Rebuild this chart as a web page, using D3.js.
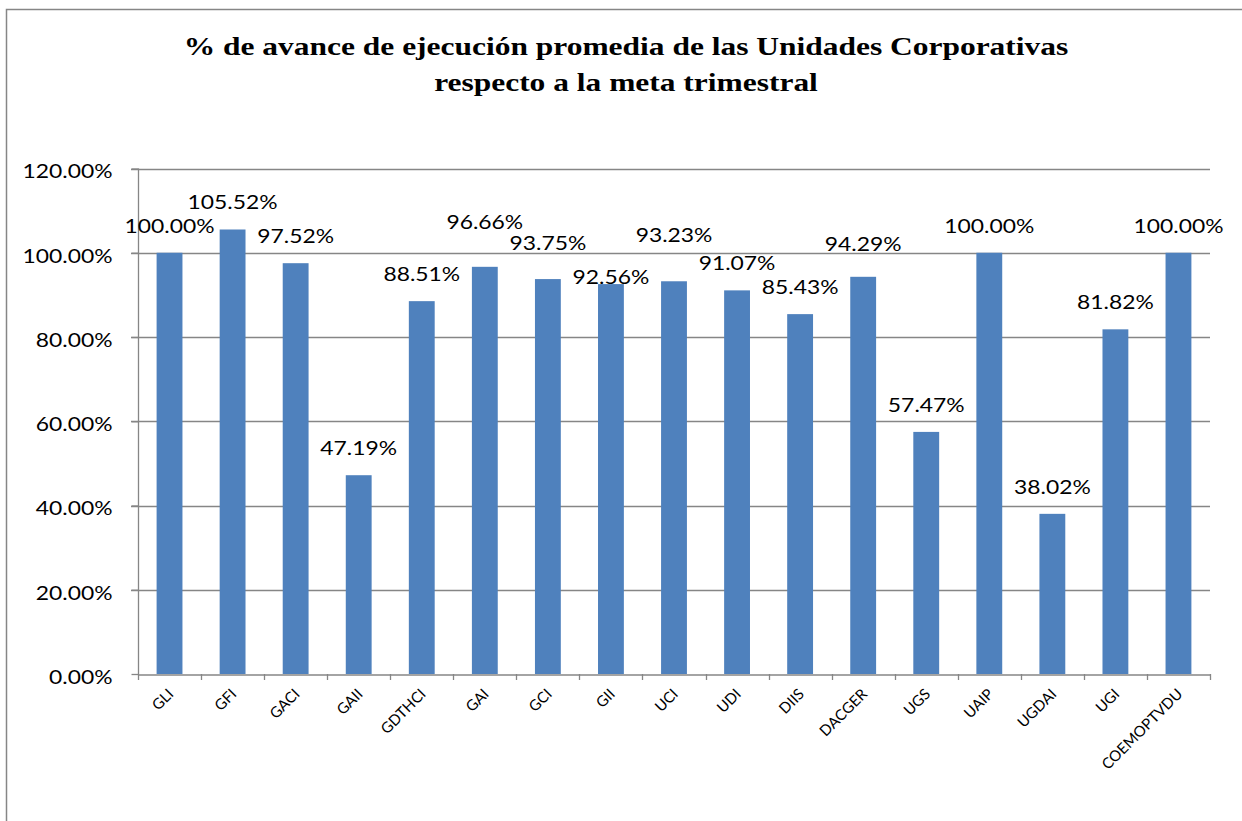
<!DOCTYPE html>
<html>
<head>
<meta charset="utf-8">
<script src="https://cdn.jsdelivr.net/npm/d3@7/dist/d3.min.js"></script>
<style>
  html, body { margin: 0; padding: 0; background: #ffffff; }
  svg { display: block; }
</style>
</head>
<body>
<svg id="chart" width="1242" height="821"></svg>
<script>
// ---- data ----
const categories = ["GLI", "GFI", "GACI", "GAII", "GDTHCI", "GAI", "GCI", "GII", "UCI", "UDI", "DIIS", "DACGER", "UGS", "UAIP", "UGDAI", "UGI", "COEMOPTVDU"];
const values = [100.00, 105.52, 97.52, 47.19, 88.51, 96.66, 93.75, 92.56, 93.23, 91.07, 85.43, 94.29, 57.47, 100.00, 38.02, 81.82, 100.00];
const yTicks = [0, 20, 40, 60, 80, 100, 120];
const titleLines = ["% de avance de ejecución promedia de las Unidades Corporativas", "respecto a la meta trimestral"];
// label vertical nudges (layout only, px) mimicking the original overlap avoidance
const labelNudge = [0, 0, 0, 0, 0, -18, -9, 20, -19, 0, 0, -6, 0, 0, 0, 0, 0];

// ---- layout ----
const plot = { left: 138, right: 1210, top: 168.5, bottom: 674 };
const barColor = "#4F81BD";
const gridColor = "#868686";
const numFont = "Lato, 'Open Sans', sans-serif";
const numSize = 20;

const svg = d3.select("#chart");

// chart frame
svg.append("rect")
  .attr("x", 6.5).attr("y", 9.5)
  .attr("width", 1260).attr("height", 830)
  .attr("fill", "#ffffff")
  .attr("stroke", gridColor).attr("stroke-width", 1.5);

const x = d3.scaleBand()
  .domain(categories)
  .range([plot.left, plot.right])
  .paddingInner(0.59)
  .paddingOuter(0.295);

const y = d3.scaleLinear()
  .domain([0, 120])
  .range([plot.bottom, plot.top]);

function measure(text, font, size, weight) {
  const t = svg.append("text").attr("font-family", font).attr("font-size", size)
    .attr("font-weight", weight || "normal").text(text);
  const w = t.node().getComputedTextLength();
  t.remove();
  return w;
}
const numSx = 90 / measure("100.00%", numFont, numSize);

// gridlines
svg.append("g")
  .selectAll("line")
  .data(yTicks.filter(d => d > 0))
  .join("line")
  .attr("x1", plot.left - 7).attr("x2", plot.right)
  .attr("y1", d => Math.round(y(d)) + 0.5).attr("y2", d => Math.round(y(d)) + 0.5)
  .attr("stroke", gridColor).attr("stroke-width", 1.3);

// y axis
const yAxis = d3.axisLeft(y).tickValues(yTicks).tickSize(7).tickFormat(d => d.toFixed(2) + "%");
const gy = svg.append("g").attr("transform", `translate(${plot.left + 0.5},0)`).call(yAxis);
gy.selectAll("path, line").attr("stroke", gridColor).attr("stroke-width", 1.3);
gy.select(".domain").attr("d", `M0,${plot.top}V${plot.bottom}`);
gy.selectAll("text")
  .attr("font-family", numFont).attr("font-size", numSize).attr("fill", "#000")
  .attr("x", null).attr("dy", null)
  .attr("text-anchor", "end").attr("dominant-baseline", "central")
  .attr("transform", `translate(-26,2) scale(${numSx},1)`);

// bars
svg.append("g")
  .selectAll("rect")
  .data(values)
  .join("rect")
  .attr("x", (d, i) => x(categories[i]))
  .attr("width", x.bandwidth())
  .attr("y", d => y(d))
  .attr("height", d => y(0) - y(d))
  .attr("fill", barColor);

// x axis
const xAxis = d3.axisBottom(x).tickSize(0).tickFormat("");
const gx = svg.append("g").attr("transform", `translate(0,${Math.round(plot.bottom) + 0.5})`).call(xAxis);
gx.select(".domain").attr("stroke", gridColor).attr("stroke-width", 1.3);
const bounds = categories.map(c => x(c) - x.step() * 0.295).concat([plot.right]);
svg.append("g")
  .selectAll("line")
  .data(bounds)
  .join("line")
  .attr("x1", d => Math.round(d) + 0.5).attr("x2", d => Math.round(d) + 0.5)
  .attr("y1", plot.bottom).attr("y2", plot.bottom + 6)
  .attr("stroke", gridColor).attr("stroke-width", 1.3);

// category labels
svg.append("g")
  .selectAll("text")
  .data(categories)
  .join("text")
  .attr("transform", d => `translate(${x(d) + x.bandwidth() / 2 + 5},${695}) rotate(-45)`)
  .attr("text-anchor", "end")
  .attr("font-family", numFont).attr("font-size", 15)
  .attr("fill", "#000")
  .text(d => d);

// data labels
svg.append("g")
  .selectAll("text")
  .data(values)
  .join("text")
  .attr("transform", (d, i) => `translate(${x(categories[i]) + x.bandwidth() / 2},${y(d) - 20 + labelNudge[i]}) scale(${numSx},1)`)
  .attr("text-anchor", "middle")
  .attr("font-family", numFont).attr("font-size", numSize)
  .attr("fill", "#000")
  .text(d => d.toFixed(2) + "%");

// title
const titleFont = "'Liberation Serif', 'DejaVu Serif', serif";
const titleSize = 25;
const titleSx = 885 / measure(titleLines[0], titleFont, titleSize, "bold");
svg.append("g")
  .selectAll("text")
  .data(titleLines)
  .join("text")
  .attr("transform", (d, i) => `translate(626,${i === 0 ? 55 : 91}) scale(${titleSx},1)`)
  .attr("text-anchor", "middle")
  .attr("font-family", titleFont).attr("font-size", titleSize).attr("font-weight", "bold")
  .attr("fill", "#000")
  .text(d => d);
</script>
</body>
</html>
